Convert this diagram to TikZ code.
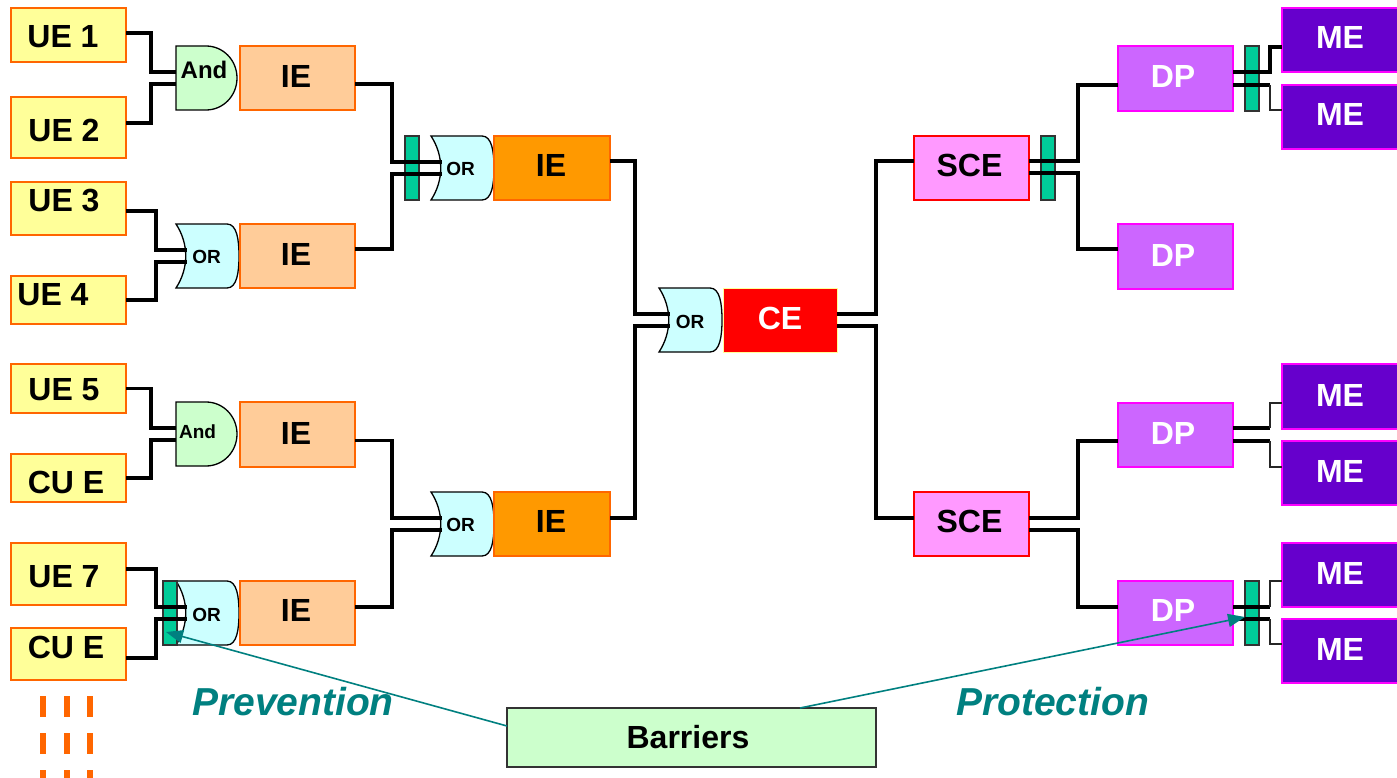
\documentclass[tikz,border=0pt]{standalone}
\usepackage{fontspec}
\setmainfont{Liberation Sans}
\usetikzlibrary{arrows.meta}
\definecolor{ueY}{HTML}{FFFF99}
\definecolor{bOr}{HTML}{FF6600}
\definecolor{ieL}{HTML}{FFCC99}
\definecolor{ieO}{HTML}{FF9900}
\definecolor{sceP}{HTML}{FF99FF}
\definecolor{dpP}{HTML}{CC66FF}
\definecolor{meP}{HTML}{6600CC}
\definecolor{magB}{HTML}{FF00FF}
\definecolor{andG}{HTML}{CCFFCC}
\definecolor{orC}{HTML}{CCFFFF}
\definecolor{barG}{HTML}{00CC99}
\definecolor{tealA}{HTML}{008080}
\definecolor{dgray}{HTML}{333333}
\tikzset{
  box/.style={line width=2pt, anchor=north west, inner sep=0pt, outer sep=0pt},
  uebox/.style={box, draw=bOr, fill=ueY, minimum width=115pt},
  ielbox/.style={box, draw=bOr, fill=ieL, minimum width=115pt, minimum height=64pt},
  ieobox/.style={box, draw=bOr, fill=ieO, minimum width=116pt, minimum height=64pt},
  cebox/.style={box, line width=1pt, draw=ueY, fill=red, minimum width=114pt, minimum height=64pt},
  scebox/.style={box, line width=1.5pt, draw=red, fill=sceP, minimum width=115pt, minimum height=64pt},
  dpbox/.style={box, draw=magB, fill=dpP, minimum width=115pt, minimum height=64pt},
  mebox/.style={box, draw=magB, fill=meP, minimum width=120pt, minimum height=64pt},
  barbox/.style={box, line width=1.5pt, draw=dgray, fill=barG, minimum width=14pt, minimum height=64pt},
  legbox/.style={box, line width=1.5pt, draw=dgray, fill=andG, minimum width=369pt, minimum height=59pt},
  gateline/.style={draw=black, line width=1.3pt},
  lbl/.style={inner sep=0pt, font=\bfseries\fontsize{32}{32}\selectfont},
  wlbl/.style={lbl, text=white},
  glbl/.style={inner sep=0pt, font=\bfseries\fontsize{19}{19}\selectfont},
  conn/.style={draw=black, line width=3.6pt},
  thinconn/.style={draw=black!85, line width=1.4pt},
  arr/.style={draw=tealA, line width=1.6pt, -{Triangle[length=17pt,width=13pt]}},
  itl/.style={inner sep=0pt, text=tealA, font=\bfseries\itshape\fontsize{39}{39}\selectfont},
  orgate/.pic={
    \draw[gateline, fill=orC] (0,0) .. controls (13,20) and (13,44) .. (0,64)
      -- (51,64) .. controls (61,64) and (63,48) .. (63,32)
      .. controls (63,16) and (61,0) .. (51,0) -- cycle;
    \coordinate (-in1) at (11,26);
    \coordinate (-in2) at (11,38);
  },
  andgate/.pic={
    \draw[gateline, fill=andG] (0,0) -- (30,0) .. controls (47,0) and (61,14) .. (61,32)
      .. controls (61,50) and (47,64) .. (30,64) -- (0,64) -- cycle;
    \coordinate (-in1) at (0,26);
    \coordinate (-in2) at (0,38);
  },
}
\begin{document}
\begin{tikzpicture}[x=1pt,y=-1pt]
\useasboundingbox (0,0) rectangle (1397,778);
\fill[white] (0,0) rectangle (1397,778);
\clip (0,0) rectangle (1397,778);

% ---------- left column boxes
\node[uebox, minimum height=54pt] (ue1) at (11,8) {};
\node[uebox, minimum height=61pt] (ue2) at (11,97) {};
\node[uebox, minimum height=53pt] (ue3) at (11,182) {};
\node[uebox, minimum height=48pt] (ue4) at (11,276) {};
\node[uebox, minimum height=49pt] (ue5) at (11,364) {};
\node[uebox, minimum height=48pt] (cue1) at (11,454) {};
\node[uebox, minimum height=62pt] (ue7) at (11,543) {};
\node[uebox, minimum height=52pt] (cue2) at (11,628) {};

% ---------- gates
\pic (a1) at (176,46) {andgate};
\pic (o2) at (176,224) {orgate};
\pic (o3) at (431,136) {orgate};
\pic (oce) at (659,288) {orgate};
\pic (a5) at (176,402) {andgate};
\pic (o5) at (431,492) {orgate};
\pic (o6) at (176,581) {orgate};

% ---------- intermediate boxes
\node[ielbox] (ie1) at (240,46) {};
\node[ielbox] (ie2) at (240,224) {};
\node[ielbox, minimum height=65pt] (ie3) at (240,402) {};
\node[ielbox] (ie4) at (240,581) {};
\node[ieobox] (ieo1) at (494,136) {};
\node[ieobox] (ieo2) at (494,492) {};
\node[cebox] (ce) at (723,288) {};
\node[scebox] (sce1) at (914,136) {};
\node[scebox] (sce2) at (914,492) {};
\node[dpbox, minimum height=65pt] (dp1) at (1118,46) {};
\node[dpbox, minimum height=65pt] (dp2) at (1118,224) {};
\node[dpbox] (dp3) at (1118,403) {};
\node[dpbox] (dp4) at (1118,581) {};
\node[mebox] (me1) at (1282,8) {};
\node[mebox] (me2) at (1282,85) {};
\node[mebox, minimum height=65pt] (me3) at (1282,364) {};
\node[mebox] (me4) at (1282,441) {};
\node[mebox] (me5) at (1282,543) {};
\node[mebox] (me6) at (1282,619) {};

% ---------- barriers
\node[barbox] (b1) at (405,136) {};
\node[barbox] (b2) at (163,581) {};
\node[barbox] (b3) at (1041,136) {};
\node[barbox, minimum height=65pt] (b4) at (1245,46) {};
\node[barbox] (b5) at (1245,581) {};

% ---------- connectors
\draw[conn] ([yshift=2pt]ue1.east) -- ++(25,0) |- (a1-in1);
\draw[conn] ([yshift=4.5pt]ue2.east) -- ++(25,0) |- (a1-in2);
\draw[conn] ([yshift=-2.5pt]ue3.east) -- ++(30,0) |- (o2-in1);
\draw[conn] (ue4.east) -- ++(30,0) |- (o2-in2);
\draw[conn] (ue5.east) -- ++(25,0) |- (a5-in1);
\draw[conn] (cue1.east) -- ++(25,0) |- (a5-in2);
\draw[conn] ([yshift=5pt]ue7.east) -- ++(30,0) |- (o6-in1);
\draw[conn] ([yshift=-4pt]cue2.east) -- ++(30,0) |- (o6-in2);

\draw[conn] ([yshift=-6pt]ie1.east) -- ++(37,0) |- (o3-in1);
\draw[conn] ([yshift=7pt]ie2.east) -- ++(37,0) |- (o3-in2);
\draw[conn] ([yshift=-6pt]ie3.east) -- ++(37,0) |- (o5-in1);
\draw[conn] ([yshift=6pt]ie4.east) -- ++(37,0) |- (o5-in2);

\draw[conn] ([yshift=7pt]ieo1.east) -- ++(25,0) |- (oce-in1);
\draw[conn] ([yshift=6pt]ieo2.east) -- ++(25,0) |- (oce-in2);

\draw[conn] ([yshift=6pt]ce.east) -- ++(39,0) |- ([yshift=7pt]sce1.west);
\draw[conn] ([yshift=-6pt]ce.east) -- ++(39,0) |- ([yshift=6pt]sce2.west);

\draw[conn] ([yshift=7pt]sce1.east) -- ++(49,0) |- ([yshift=-6.5pt]dp1.west);
\draw[conn] ([yshift=-5pt]sce1.east) -- ++(49,0) |- ([yshift=7.5pt]dp2.west);
\draw[conn] ([yshift=6pt]sce2.east) -- ++(49,0) |- ([yshift=-6pt]dp3.west);
\draw[conn] ([yshift=-6pt]sce2.east) -- ++(49,0) |- ([yshift=6pt]dp4.west);

\draw[conn] ([yshift=6.5pt]dp1.east) -- ++(37,0) |- ([yshift=-7pt]me1.west);
\draw[conn] ([yshift=-6.5pt]dp1.east) -- ++(37,0) coordinate (k1);
\draw[thinconn] (k1) |- ([yshift=7pt]me2.west);
\draw[conn] ([yshift=7pt]dp3.east) -- ++(37,0) coordinate (k2);
\draw[thinconn] (k2) |- ([yshift=-6.5pt]me3.west);
\draw[conn] ([yshift=-6pt]dp3.east) -- ++(37,0) coordinate (k3);
\draw[thinconn] (k3) |- ([yshift=6pt]me4.west);
\draw[conn] ([yshift=6pt]dp4.east) -- ++(37,0) coordinate (k4);
\draw[thinconn] (k4) |- ([yshift=-6pt]me5.west);
\draw[conn] ([yshift=-6pt]dp4.east) -- ++(37,0) coordinate (k5);
\draw[thinconn] (k5) |- ([yshift=7pt]me6.west);

% ---------- labels
\node[lbl] (t-ue1) at (63,37) {UE 1};
\node[lbl] (t-ue2) at (64,130) {UE 2};
\node[lbl] (t-ue3) at (64,201) {UE 3};
\node[lbl] (t-ue4) at (53,295) {UE 4};
\node[lbl] (t-ue5) at (64,389.5) {UE 5};
\node[lbl] (t-cue1) at (66,482.5) {CU E};
\node[lbl] (t-ue7) at (64,577) {UE 7};
\node[lbl] (t-cue2) at (66,647) {CU E};

\node[glbl, font=\bfseries\fontsize{24}{24}\selectfont] (t-a1) at (204,70) {And};
\node[glbl] (t-o2) at (206.5,257) {OR};
\node[glbl] (t-o3) at (460.5,169) {OR};
\node[glbl] (t-oce) at (690,321.5) {OR};
\node[glbl] (t-a5) at (197.5,432) {And};
\node[glbl] (t-o5) at (460.5,525) {OR};
\node[glbl] (t-o6) at (206.5,615) {OR};

\node[lbl] (t-ie1) at (296,76) {IE};
\node[lbl] (t-ie2) at (296,254) {IE};
\node[lbl] (t-ie3) at (296,433) {IE};
\node[lbl] (t-ie4) at (296,610.5) {IE};
\node[lbl] (t-ieo1) at (551,165) {IE};
\node[lbl] (t-ieo2) at (551,521.5) {IE};
\node[wlbl] (t-ce) at (780,318) {CE};
\node[lbl] (t-sce1) at (969.5,165) {SCE};
\node[lbl] (t-sce2) at (969.5,521.5) {SCE};
\node[wlbl] (t-dp1) at (1173,76.5) {DP};
\node[wlbl] (t-dp2) at (1173,255) {DP};
\node[wlbl] (t-dp3) at (1173,433) {DP};
\node[wlbl] (t-dp4) at (1173,610.5) {DP};
\node[wlbl] (t-me1) at (1340,37.5) {ME};
\node[wlbl] (t-me2) at (1340,114.5) {ME};
\node[wlbl] (t-me3) at (1340,395) {ME};
\node[wlbl] (t-me4) at (1340,471) {ME};
\node[wlbl] (t-me5) at (1340,573) {ME};
\node[wlbl] (t-me6) at (1340,649) {ME};

% ---------- orange dashes
\foreach \yy in {696,733,770} {
  \fill[bOr] (40,\yy) rectangle (45.5,\yy+21);
  \fill[bOr] (64,\yy) rectangle (69.5,\yy+21);
  \fill[bOr] (87,\yy) rectangle (92.5,\yy+21);
}

% ---------- legend
\node[legbox] (barriers) at (507,708) {};
\node[lbl] (t-barriers) at (688,737.5) {Barriers};
\node[itl] (prevention) at (293,702) {Prevention};
\node[itl] (protection) at (1052.5,702) {Protection};

\draw[arr] ([yshift=-18pt]barriers.north west) -- ([xshift=3pt,yshift=13pt]b2.south west);
\draw[arr] ([xshift=293pt]barriers.north west) -- ([yshift=-4pt]b5.west);
\end{tikzpicture}
\end{document}
